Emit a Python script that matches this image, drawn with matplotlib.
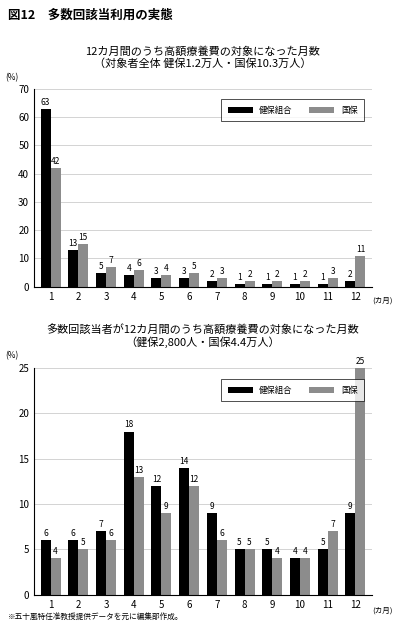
import numpy as np
import matplotlib
matplotlib.use('Agg')
import matplotlib.pyplot as plt

plt.rcParams['font.family'] = ['Noto Sans CJK JP', 'DejaVu Sans']

months = [str(i) for i in range(1, 13)]
kenpo_all = [63, 13, 5, 4, 3, 3, 2, 1, 1, 1, 1, 2]
kokuho_all = [42, 15, 7, 6, 4, 5, 3, 2, 2, 2, 3, 11]
kenpo_multi = [6, 6, 7, 18, 12, 14, 9, 5, 5, 4, 5, 9]
kokuho_multi = [4, 5, 6, 13, 9, 12, 6, 5, 4, 4, 7, 25]


def draw(ax, a, b, ymax, step, title):
    x = np.arange(len(months))
    w = 0.36
    ax.bar(x - w / 2, a, w, color='black', label='健保組合')
    ax.bar(x + w / 2, b, w, color='#8c8c8c', label='国保')
    for xi, v in zip(x, a):
        ax.text(xi - w / 2, v + ymax * 0.01, str(v), ha='center', va='bottom', fontsize=6)
    for xi, v in zip(x, b):
        ax.text(xi + w / 2, v + ymax * 0.01, str(v), ha='center', va='bottom', fontsize=6)
    ax.set_ylim(0, ymax)
    ax.set_yticks(np.arange(0, ymax + 1, step))
    ax.yaxis.grid(True, color='#cccccc', lw=0.6)
    ax.set_axisbelow(True)
    ax.set_xlim(-0.6, 11.6)
    ax.set_xticks(x)
    ax.set_xticklabels(months)
    ax.tick_params(labelsize=7, length=0)
    for s in ['top', 'right']:
        ax.spines[s].set_visible(False)
    ax.text(-0.085, 1.045, '(%)', transform=ax.transAxes, fontsize=6)
    ax.text(1.0, -0.07, '(カ月)', transform=ax.transAxes, fontsize=5.5, va='center')
    ax.set_title(title, fontsize=8, pad=16, linespacing=1.2)
    leg = ax.legend(loc='upper right', ncol=2, fontsize=6, frameon=True, fancybox=False,
                    edgecolor='black', handlelength=3, handleheight=0.7, borderpad=0.8,
                    bbox_to_anchor=(0.99, 0.97))
    leg.get_frame().set_linewidth(0.6)


fig = plt.figure(figsize=(4, 6.26), dpi=100)
fig.text(0.02, 0.975, '図12　多数回該当利用の実態', fontsize=9, fontweight='bold', va='center')
ax1 = fig.add_axes([0.085, 0.542, 0.845, 0.316])
draw(ax1, kenpo_all, kokuho_all, 70, 10,
     '12カ月間のうち高額療養費の対象になった月数\n（対象者全体 健保1.2万人・国保10.3万人）')
ax2 = fig.add_axes([0.085, 0.05, 0.845, 0.362])
draw(ax2, kenpo_multi, kokuho_multi, 25, 5,
     '多数回該当者が12カ月間のうち高額療養費の対象になった月数\n（健保2,800人・国保4.4万人）')
fig.text(0.02, 0.014, '※五十嵐特任准教授提供データを元に編集部作成。', fontsize=5.5, va='center')
fig.savefig('out.png', dpi=100)
